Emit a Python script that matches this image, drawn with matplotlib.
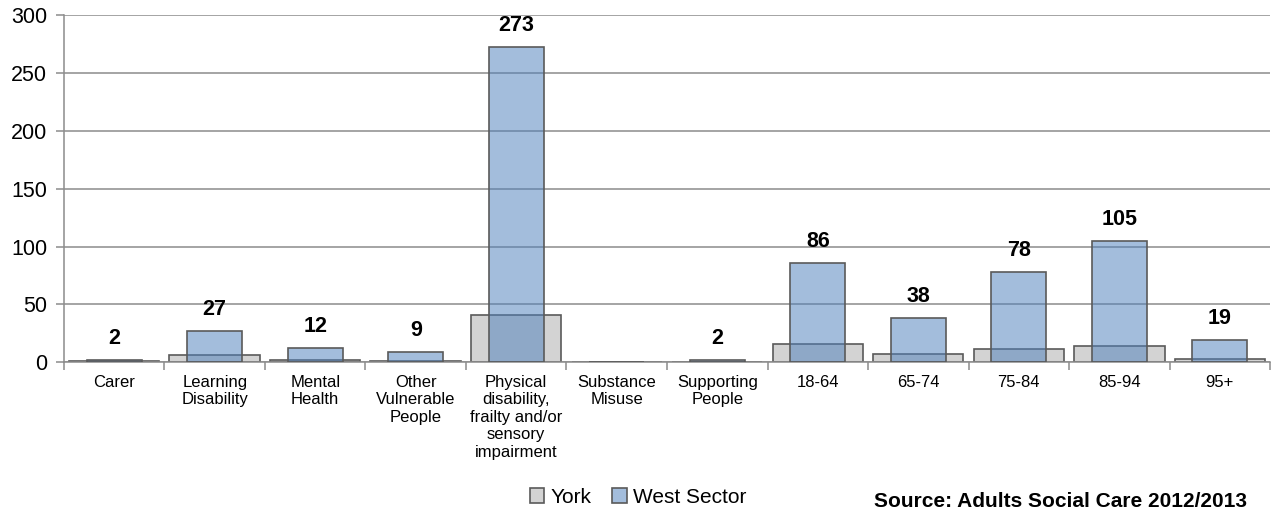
import matplotlib.pyplot as plt
import numpy as np

plt.rcParams['font.family'] = ['Liberation Sans', 'DejaVu Sans']

# === Data ===
categories = [
    "Carer", "Learning\nDisability", "Mental\nHealth", "Other\nVulnerable\nPeople",
    "Physical\ndisability,\nfrailty and/or\nsensory\nimpairment",
    "Substance\nMisuse", "Supporting\nPeople",
    "18-64", "65-74", "75-84", "85-94", "95+",
]
york = [1, 6, 2, 1, 41, 0, 0, 16, 7, 11, 14, 3]
west_sector = [2, 27, 12, 9, 273, 0, 2, 86, 38, 78, 105, 19]
west_labels = ["2", "27", "12", "9", "273", "", "2", "86", "38", "78", "105", "19"]

# === Plot ===
fig = plt.figure(figsize=(12.79, 5.13), dpi=100)
ax = fig.add_axes([0.05, 0.2943, 0.943, 0.6755])

x = np.arange(len(categories))
grid_col = "#8c8c8c"
edge_col = "#5a5a5a"

ax.bar(x, york, width=0.9, color="#d3d3d3", edgecolor=edge_col, linewidth=1.2,
       label="York", zorder=2)
ax.bar(x, west_sector, width=0.55, color=(79/255, 129/255, 189/255, 0.52),
       edgecolor=edge_col, linewidth=1.2, label="West Sector", zorder=3)

for xi, v, lab in zip(x, west_sector, west_labels):
    if lab:
        ax.annotate(lab, (xi, v), xytext=(0, 8), textcoords="offset points",
                    ha="center", va="bottom", fontsize=15.5, fontweight="bold")

ax.set_xlim(-0.5, len(categories) - 0.5)
ax.set_ylim(0, 300)
ax.set_yticks(range(0, 301, 50))
ax.yaxis.grid(True, color=grid_col, linewidth=1.1, zorder=0)
ax.set_axisbelow(True)

ax.set_xticks(x)
ax.set_xticklabels(categories, fontsize=12, linespacing=1.22)
ax.set_xticks(np.arange(-0.5, len(categories), 1), minor=True)
ax.tick_params(axis="x", which="major", length=0, pad=9)
ax.tick_params(axis="x", which="minor", length=6, color=grid_col, width=1.1)
ax.tick_params(axis="y", length=6, color=grid_col, width=1.1, labelsize=15.5, pad=6)

for side in ["top", "right"]:
    ax.spines[side].set_visible(False)
for side in ["left", "bottom"]:
    ax.spines[side].set_color(grid_col)
    ax.spines[side].set_linewidth(1.1)

fig.legend(loc="center", bbox_to_anchor=(0.499, 0.031), ncol=2, frameon=False,
           fontsize=15, handlelength=0.7, handleheight=0.7, handletextpad=0.3,
           columnspacing=1.0)

fig.text(0.683, 0.004, "Source: Adults Social Care 2012/2013",
         ha="left", va="bottom", fontsize=15, fontweight="bold")

plt.savefig("out.png", dpi=100)
